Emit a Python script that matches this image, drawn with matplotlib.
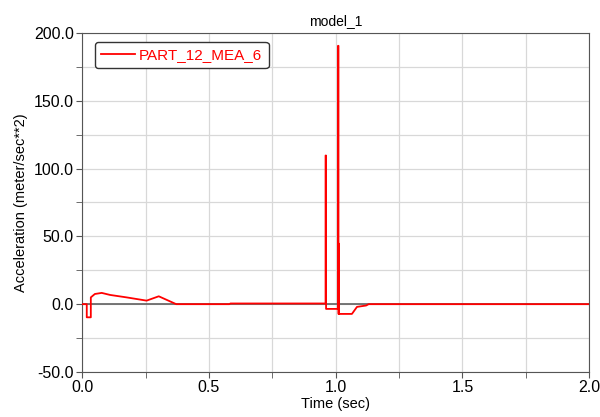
import numpy as np
import matplotlib.pyplot as plt
from matplotlib.ticker import MultipleLocator

plt.rcParams['font.family'] = ['Liberation Sans', 'DejaVu Sans']

time = [0.0, 0.018, 0.018, 0.034, 0.034, 0.05, 0.077, 0.11, 0.175, 0.254,
        0.302, 0.371, 0.58, 0.585, 0.60, 0.96, 0.96, 0.962, 0.962, 1.009,
        1.009, 1.011, 1.011, 1.012, 1.012, 1.013, 1.013, 1.064, 1.084, 1.12,
        1.13, 2.0]
accel = [0.0, 0.0, -9.7, -9.7, 5.0, 7.5, 8.3, 6.8, 5.0, 2.6,
         5.8, 0.0, 0.0, 0.5, 0.5, 0.5, 109.6, 109.6, -3.5, -3.5,
         190.5, 190.5, -7.2, -7.2, 44.6, 44.6, -7.2, -7.2, -2.0, -1.0,
         0.0, 0.0]

series_name = "PART_12_MEA_6"
plot_title = "model_1"

fig = plt.figure(figsize=(6, 4.17), dpi=100)
ax = fig.add_axes([0.137, 0.108, 0.845, 0.813])

# zero reference line under the signal
ax.axhline(0, color='#606060', lw=1.2, zorder=1)
ax.plot(time, accel, color='red', lw=1.3, label=series_name, zorder=3)

ax.set_xlim(0, 2.0)
ax.set_ylim(-50, 200)
ax.xaxis.set_major_locator(MultipleLocator(0.5))
ax.xaxis.set_minor_locator(MultipleLocator(0.25))
ax.yaxis.set_major_locator(MultipleLocator(50))
ax.yaxis.set_minor_locator(MultipleLocator(25))
ax.xaxis.set_major_formatter(lambda v, p: f"{v:.1f}")
ax.yaxis.set_major_formatter(lambda v, p: f"{v:.1f}")
ax.grid(True, which='both', color='#d8d8d8', lw=0.9)
ax.set_axisbelow(True)
ax.tick_params(which='both', direction='out', length=4, color='#555555',
               labelsize=11.5, pad=2)
for s in ax.spines.values():
    s.set_color('#555555')

ax.set_xlabel("Time (sec)", fontsize=10.5, labelpad=1)
ax.set_ylabel("Acceleration (meter/sec**2)", fontsize=10.5)
ax.set_title(plot_title, fontsize=10, pad=6)

leg = ax.legend(loc='upper left', fontsize=11, handlelength=2.2,
                handletextpad=0.3, borderpad=0.4, borderaxespad=0,
                fancybox=True, framealpha=1, edgecolor='#333333',
                bbox_to_anchor=(0.025, 0.973))
for t in leg.get_texts():
    t.set_color('red')

fig.savefig("out.png", dpi=100)
